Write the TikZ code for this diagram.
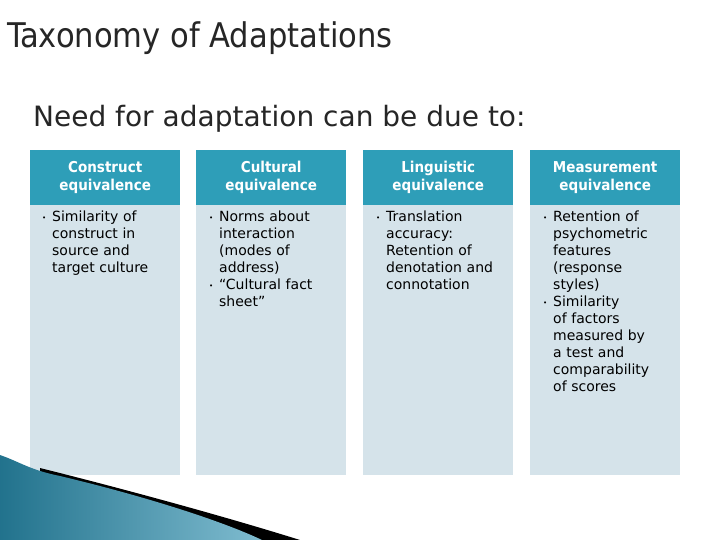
\documentclass[tikz,border=0pt]{standalone}
\usepackage{fontspec}
\setmainfont{DejaVu Sans}
\newfontfamily\condfont{DejaVu Sans Condensed}
\hyphenpenalty=10000
\exhyphenpenalty=10000
\begin{document}
\begin{tikzpicture}[x=1pt,y=-1pt,
  hdr/.style={fill=hcol,text=white,minimum width=150pt,minimum height=55pt,anchor=north west,inner sep=0pt,align=center,font=\condfont\bfseries\fontsize{15}{18}\selectfont},
  bodybox/.style={fill=bcol,minimum width=150pt,minimum height=270pt,anchor=north west,inner sep=0pt},
  btext/.style={anchor=north west,text width=118pt,align=left,font=\fontsize{14}{17}\selectfont,inner sep=0pt}]
\definecolor{hcol}{HTML}{2E9EB8}
\definecolor{bcol}{HTML}{D5E3EA}
\definecolor{wave}{HTML}{2A8FB0}
\useasboundingbox (0,0) rectangle (720,540);
\fill[white] (0,0) rectangle (720,540);
\node[anchor=west,inner sep=0pt,font=\condfont\fontsize{34}{38}\selectfont,text=black!85] (title) at (7,38) {Taxonomy of Adaptations};
\node[anchor=west,inner sep=0pt,font=\fontsize{28}{32}\selectfont,text=black!85] (sub) at (33,119) {Need for adaptation can be due to:};
\foreach \i/\x/\h in {1/30/{Construct\\equivalence},2/196/{Cultural\\equivalence},3/363/{Linguistic\\equivalence},4/530/{Measurement\\equivalence}}{
  \node[bodybox] (b\i) at (\x,205) {};
  \node[hdr] (h\i) at (\x,150) {\h};
}
\newcommand{\bul}{\makebox[0pt][r]{\raisebox{1pt}{\scriptsize\textbullet}\hspace{6pt}}}
\node[btext] (t1) at (52,211) {\bul Similarity of construct in source and target culture};
\node[btext] (t2) at (219,211) {\bul Norms about interaction (modes of address)\\\bul “Cultural fact sheet”};
\node[btext] (t3) at (386,211) {\bul Translation accuracy: Retention of denotation and connotation};
\node[btext] (t4) at (553,211) {\bul Retention of psychometric features (response styles)\\\bul Similarity of factors measured by a test and comparability of scores};
% decorative wave
\fill[black] (40,468) .. controls (120,488) and (220,515) .. (300,540) -- (255,540) .. controls (180,515) and (100,490) .. (40,474) -- cycle;
\shade[left color=wave!80!black,right color=wave!60!white] (0,455) .. controls (20,462) and (30,470) .. (60,476) .. controls (140,495) and (220,520) .. (262,540) -- (0,540) -- cycle;
\end{tikzpicture}
\end{document}
